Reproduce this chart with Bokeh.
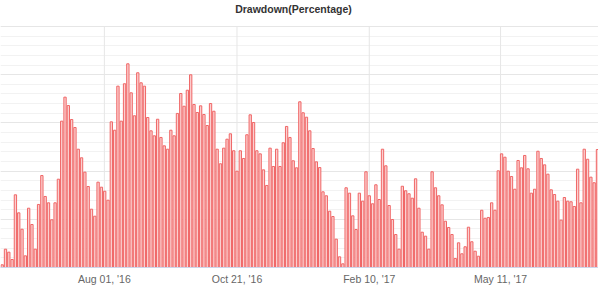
from bokeh.plotting import figure
from bokeh.models import FixedTicker, Range1d, ColumnDataSource, Label
from bokeh.embed import file_html
from bokeh.resources import INLINE

# Drawdown values (percent), one per period
drawdown = [
    0.28, 1.90, 1.59, 0.83, 7.54, 5.67, 3.97, 1.21, 6.15, 4.46,
    1.90, 6.54, 9.54, 7.37, 6.71, 4.95, 6.71, 9.16, 15.18, 17.67,
    16.80, 15.35, 14.52, 12.27, 11.38, 9.89, 8.40, 6.05, 5.32, 8.85,
    8.33, 7.91, 6.98, 15.11, 14.24, 18.81, 15.18, 19.06, 21.13, 18.12,
    15.74, 20.20, 19.16, 18.81, 15.56, 14.18, 13.66, 15.38, 13.49, 12.62,
    12.27, 14.24, 13.66, 15.98, 18.05, 16.73, 18.39, 19.99, 16.91, 16.08,
    16.77, 15.87, 14.73, 17.01, 16.21, 12.27, 10.76, 12.38, 13.31, 13.87,
    12.11, 9.99, 12.11, 11.31, 13.77, 15.84, 15.04, 12.11, 11.79, 10.13,
    8.51, 12.38, 10.48, 12.27, 10.48, 12.94, 14.63, 13.49, 11.07, 10.34,
    17.19, 16.05, 15.59, 14.18, 12.34, 10.96, 10.37, 7.85, 7.44, 5.84,
    5.29, 2.94, 1.11, 0.38, 8.27, 7.71, 5.36, 3.94, 7.71, 6.88,
    9.93, 7.44, 6.61, 8.58, 7.05, 12.27, 10.55, 6.43, 4.98, 3.42,
    1.90, 8.43, 7.96, 7.65, 7.19, 9.20, 6.15, 3.66, 3.25, 1.90,
    9.93, 8.27, 7.44, 6.50, 4.80, 4.15, 3.42, 0.93, 2.56, 1.42,
    2.15, 4.18, 2.67, 1.69, 1.17, 5.94, 5.11, 5.19, 6.71, 5.94,
    10.03, 11.79, 11.44, 9.99, 9.44, 8.12, 11.10, 10.34, 11.62, 10.24,
    7.71, 8.12, 12.06, 11.31, 10.65, 9.68, 8.06, 7.57, 6.88, 4.91,
    7.26, 6.88, 6.82, 6.33, 10.20, 6.71, 12.27, 11.23, 9.37, 8.79,
    12.24,
]
period_index = list(range(len(drawdown)))

tick_index = [30.9, 71.0, 111.0, 150.7]
tick_labels = ["Aug 01, '16", "Oct 21, '16", "Feb 10, '17", "May 11, '17"]
y_ticks = [0, 5, 10, 15, 20, 25]
y_minor = list(range(26))
chart_title = "Drawdown(Percentage)"

n = len(drawdown)
y_top = 25
# frame spans the title strip too; grid stops at y_top
p = figure(width=598, height=287, output_backend="svg", toolbar_location=None,
           x_range=Range1d(-0.51, n - 1 + 0.31), y_range=Range1d(0, y_top * 267 / 241),
           min_border_left=0, min_border_right=0, min_border_top=0, min_border_bottom=0)

p.add_layout(Label(x=293, y=259, x_units="screen", y_units="screen",
                   text=chart_title, text_align="center", text_baseline="middle",
                   text_font="Liberation Sans", text_font_size="10.5px",
                   text_font_style="bold", text_color="#333333"))

# vertical grid lines at the date ticks, limited to the plotting area
p.segment(x0=tick_index, y0=[0] * len(tick_index), x1=tick_index,
          y1=[y_top] * len(tick_index), line_color="#e6e6e6", line_width=1)

src = ColumnDataSource(dict(x=period_index, y=drawdown))
p.vbar(x="x", top="y", width=0.7, bottom=0, source=src,
       fill_color="#fbd0d0", line_color="#f06666", line_width=1)

p.outline_line_color = None
p.background_fill_color = "white"

p.yaxis.visible = False
p.yaxis.ticker = FixedTicker(ticks=y_ticks, minor_ticks=y_minor)

xa = p.xaxis[0]
xa.ticker = FixedTicker(ticks=tick_index)
xa.major_label_overrides = {t: l for t, l in zip(tick_index, tick_labels)}
xa.major_label_text_font = "Liberation Sans"
xa.major_label_text_font_size = "10.5px"
xa.major_label_text_color = "#666666"
xa.axis_line_color = "#ccd6eb"
xa.major_tick_line_color = None
xa.minor_tick_line_color = None
xa.major_tick_out = 0
xa.major_tick_in = 0
xa.minor_tick_out = 0
xa.minor_tick_in = 0
xa.major_label_standoff = 5

p.xgrid.grid_line_color = None
p.ygrid.grid_line_color = "#e6e6e6"
p.ygrid.minor_grid_line_color = "#f2f2f2"

open("out.html", "w").write(file_html(p, INLINE))
